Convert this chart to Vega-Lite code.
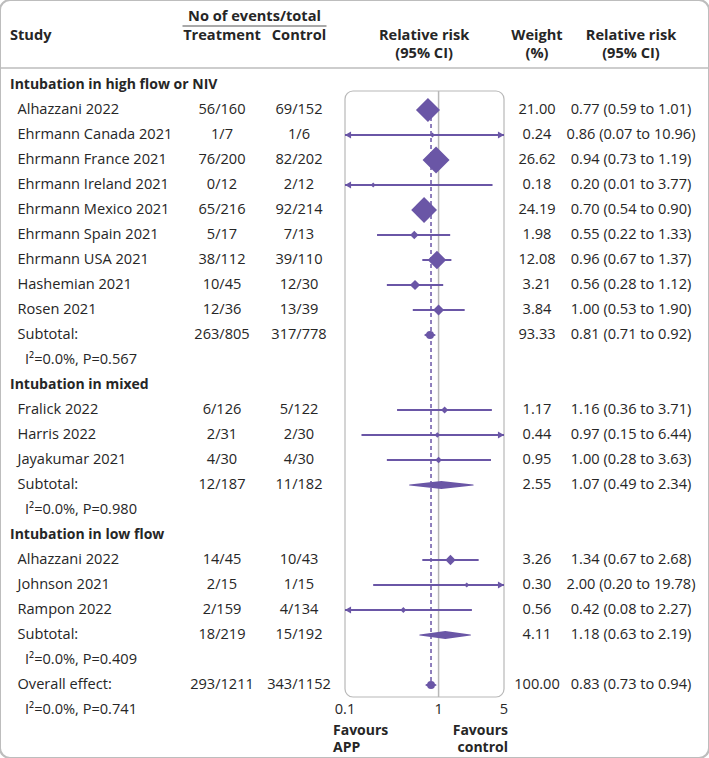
{
  "$schema": "https://vega.github.io/schema/vega-lite/v6.json",
  "width": 709,
  "height": 758,
  "autosize": {"type": "none"},
  "padding": 0,
  "background": "white",
  "config": {
    "view": {"stroke": "#bdbdbd", "strokeWidth": 2, "cornerRadius": 10},
    "axis": {"disable": true},
    "legend": {"disable": true},
    "font": "Open Sans",
    "text": {"font": "Open Sans", "fontSize": 14.6, "color": "#262626", "baseline": "middle"}
  },
  "datasets": {
    "rows": [
      {"row": 0, "group": "Intubation in high flow or NIV"},
      {"row": 1, "kind": "study", "label": "Alhazzani 2022", "treat": "56/160", "ctrl": "69/152", "w": 21.00, "rr": 0.77, "lo": 0.59, "hi": 1.01, "ci": "0.77 (0.59 to 1.01)"},
      {"row": 2, "kind": "study", "label": "Ehrmann Canada 2021", "treat": "1/7", "ctrl": "1/6", "w": 0.24, "rr": 0.86, "lo": 0.07, "hi": 10.96, "ci": "0.86 (0.07 to 10.96)"},
      {"row": 3, "kind": "study", "label": "Ehrmann France 2021", "treat": "76/200", "ctrl": "82/202", "w": 26.62, "rr": 0.94, "lo": 0.73, "hi": 1.19, "ci": "0.94 (0.73 to 1.19)"},
      {"row": 4, "kind": "study", "label": "Ehrmann Ireland 2021", "treat": "0/12", "ctrl": "2/12", "w": 0.18, "rr": 0.20, "lo": 0.01, "hi": 3.77, "ci": "0.20 (0.01 to 3.77)"},
      {"row": 5, "kind": "study", "label": "Ehrmann Mexico 2021", "treat": "65/216", "ctrl": "92/214", "w": 24.19, "rr": 0.70, "lo": 0.54, "hi": 0.90, "ci": "0.70 (0.54 to 0.90)"},
      {"row": 6, "kind": "study", "label": "Ehrmann Spain 2021", "treat": "5/17", "ctrl": "7/13", "w": 1.98, "rr": 0.55, "lo": 0.22, "hi": 1.33, "ci": "0.55 (0.22 to 1.33)"},
      {"row": 7, "kind": "study", "label": "Ehrmann USA 2021", "treat": "38/112", "ctrl": "39/110", "w": 12.08, "rr": 0.96, "lo": 0.67, "hi": 1.37, "ci": "0.96 (0.67 to 1.37)"},
      {"row": 8, "kind": "study", "label": "Hashemian 2021", "treat": "10/45", "ctrl": "12/30", "w": 3.21, "rr": 0.56, "lo": 0.28, "hi": 1.12, "ci": "0.56 (0.28 to 1.12)"},
      {"row": 9, "kind": "study", "label": "Rosen 2021", "treat": "12/36", "ctrl": "13/39", "w": 3.84, "rr": 1.00, "lo": 0.53, "hi": 1.90, "ci": "1.00 (0.53 to 1.90)"},
      {"row": 10, "kind": "subtotal", "label": "Subtotal:", "treat": "263/805", "ctrl": "317/778", "w": 93.33, "rr": 0.81, "lo": 0.71, "hi": 0.92, "ci": "0.81 (0.71 to 0.92)"},
      {"row": 11, "het": "I²=0.0%, P=0.567"},
      {"row": 12, "group": "Intubation in mixed"},
      {"row": 13, "kind": "study", "label": "Fralick 2022", "treat": "6/126", "ctrl": "5/122", "w": 1.17, "rr": 1.16, "lo": 0.36, "hi": 3.71, "ci": "1.16 (0.36 to 3.71)"},
      {"row": 14, "kind": "study", "label": "Harris 2022", "treat": "2/31", "ctrl": "2/30", "w": 0.44, "rr": 0.97, "lo": 0.15, "hi": 6.44, "ci": "0.97 (0.15 to 6.44)"},
      {"row": 15, "kind": "study", "label": "Jayakumar 2021", "treat": "4/30", "ctrl": "4/30", "w": 0.95, "rr": 1.00, "lo": 0.28, "hi": 3.63, "ci": "1.00 (0.28 to 3.63)"},
      {"row": 16, "kind": "subtotal", "label": "Subtotal:", "treat": "12/187", "ctrl": "11/182", "w": 2.55, "rr": 1.07, "lo": 0.49, "hi": 2.34, "ci": "1.07 (0.49 to 2.34)"},
      {"row": 17, "het": "I²=0.0%, P=0.980"},
      {"row": 18, "group": "Intubation in low flow"},
      {"row": 19, "kind": "study", "label": "Alhazzani 2022", "treat": "14/45", "ctrl": "10/43", "w": 3.26, "rr": 1.34, "lo": 0.67, "hi": 2.68, "ci": "1.34 (0.67 to 2.68)"},
      {"row": 20, "kind": "study", "label": "Johnson 2021", "treat": "2/15", "ctrl": "1/15", "w": 0.30, "rr": 2.00, "lo": 0.20, "hi": 19.78, "ci": "2.00 (0.20 to 19.78)"},
      {"row": 21, "kind": "study", "label": "Rampon 2022", "treat": "2/159", "ctrl": "4/134", "w": 0.56, "rr": 0.42, "lo": 0.08, "hi": 2.27, "ci": "0.42 (0.08 to 2.27)"},
      {"row": 22, "kind": "subtotal", "label": "Subtotal:", "treat": "18/219", "ctrl": "15/192", "w": 4.11, "rr": 1.18, "lo": 0.63, "hi": 2.19, "ci": "1.18 (0.63 to 2.19)"},
      {"row": 23, "het": "I²=0.0%, P=0.409"},
      {"row": 24, "kind": "overall", "label": "Overall effect:", "treat": "293/1211", "ctrl": "343/1152", "w": 100.00, "rr": 0.83, "lo": 0.73, "hi": 0.94, "ci": "0.83 (0.73 to 0.94)"},
      {"row": 25, "het": "I²=0.0%, P=0.741"}
    ],
    "ticks": [{"v": 0.1}, {"v": 1}, {"v": 5}]
  },
  "layer": [
    {
      "data": {"values": [{}]},
      "mark": {"type": "rect", "filled": false, "stroke": "#b8b8b8", "strokeWidth": 1.2, "cornerRadius": 8},
      "encoding": {
        "x": {"datum": 0.1, "type": "quantitative", "scale": {"type": "log", "domain": [0.1, 5], "range": [345, 504], "clamp": true, "nice": false}},
        "x2": {"datum": 5},
        "y": {"datum": 0.24, "type": "quantitative", "scale": {"domain": [0, 25], "range": [85, 710], "nice": false, "zero": false}},
        "y2": {"datum": 24.48}
      }
    },
    {
      "data": {"values": [{}]},
      "mark": {"type": "rule", "stroke": "#b8b8b8", "strokeWidth": 1.5},
      "encoding": {
        "x": {"datum": 1, "type": "quantitative", "scale": {"type": "log", "domain": [0.1, 5], "range": [345, 504], "clamp": true, "nice": false}},
        "y": {"datum": 0.24, "type": "quantitative", "scale": {"domain": [0, 25], "range": [85, 710], "nice": false, "zero": false}},
        "y2": {"datum": 24.48}
      }
    },
    {
      "data": {"name": "rows"},
      "transform": [{"filter": "datum.kind == 'overall'"}],
      "mark": {"type": "rule", "stroke": "#6a56a6", "strokeWidth": 1.5, "strokeDash": [4, 3]},
      "encoding": {
        "x": {"field": "rr", "type": "quantitative", "scale": {"type": "log", "domain": [0.1, 5], "range": [345, 504], "clamp": true, "nice": false}},
        "y": {"datum": 1, "type": "quantitative", "scale": {"domain": [0, 25], "range": [85, 710], "nice": false, "zero": false}},
        "y2": {"datum": 24}
      }
    },
    {
      "data": {"name": "rows"},
      "transform": [{"filter": "datum.kind == 'study'"}],
      "mark": {"type": "rule", "stroke": "#6a56a6", "strokeWidth": 2},
      "encoding": {
        "x": {"field": "lo", "type": "quantitative", "scale": {"type": "log", "domain": [0.1, 5], "range": [345, 504], "clamp": true, "nice": false}},
        "x2": {"field": "hi"},
        "y": {"field": "row", "type": "quantitative", "scale": {"domain": [0, 25], "range": [85, 710], "nice": false, "zero": false}}
      }
    },
    {
      "data": {"name": "rows"},
      "transform": [{"filter": "datum.kind == 'study' && datum.lo < 0.1"}],
      "mark": {"type": "point", "shape": "triangle-left", "filled": true, "color": "#6a56a6", "opacity": 1, "size": 50, "xOffset": 3},
      "encoding": {
        "x": {"field": "lo", "type": "quantitative", "scale": {"type": "log", "domain": [0.1, 5], "range": [345, 504], "clamp": true, "nice": false}},
        "y": {"field": "row", "type": "quantitative", "scale": {"domain": [0, 25], "range": [85, 710], "nice": false, "zero": false}}
      }
    },
    {
      "data": {"name": "rows"},
      "transform": [{"filter": "datum.kind == 'study' && datum.hi > 5"}],
      "mark": {"type": "point", "shape": "triangle-right", "filled": true, "color": "#6a56a6", "opacity": 1, "size": 50, "xOffset": -3},
      "encoding": {
        "x": {"field": "hi", "type": "quantitative", "scale": {"type": "log", "domain": [0.1, 5], "range": [345, 504], "clamp": true, "nice": false}},
        "y": {"field": "row", "type": "quantitative", "scale": {"domain": [0, 25], "range": [85, 710], "nice": false, "zero": false}}
      }
    },
    {
      "data": {"name": "rows"},
      "transform": [{"filter": "datum.kind == 'study'"}],
      "mark": {"type": "point", "shape": "diamond", "filled": true, "color": "#6a56a6", "opacity": 1, "strokeWidth": 0},
      "encoding": {
        "x": {"field": "rr", "type": "quantitative", "scale": {"type": "log", "domain": [0.1, 5], "range": [345, 504], "clamp": true, "nice": false}},
        "y": {"field": "row", "type": "quantitative", "scale": {"domain": [0, 25], "range": [85, 710], "nice": false, "zero": false}},
        "size": {"field": "w", "type": "quantitative", "scale": {"type": "linear", "domain": [0, 27], "range": [19, 740]}}
      }
    },
    {
      "data": {"name": "rows"},
      "transform": [
        {"filter": "datum.kind == 'subtotal' || datum.kind == 'overall'"},
        {"fold": ["lo", "rr", "hi"], "as": ["vertex", "xv"]}
      ],
      "mark": {"type": "trail", "color": "#6a56a6", "opacity": 1},
      "encoding": {
        "x": {"field": "xv", "type": "quantitative", "scale": {"type": "log", "domain": [0.1, 5], "range": [345, 504], "clamp": true, "nice": false}},
        "y": {"field": "row", "type": "quantitative", "scale": {"domain": [0, 25], "range": [85, 710], "nice": false, "zero": false}},
        "detail": {"field": "row", "type": "nominal"},
        "order": {"field": "xv", "type": "quantitative"},
        "size": {"field": "vertex", "type": "ordinal", "scale": {"type": "ordinal", "domain": ["lo", "rr", "hi"], "range": [0, 8, 0]}}
      }
    },
    {
      "data": {"name": "ticks"},
      "mark": {"type": "text", "align": "center"},
      "encoding": {
        "x": {"field": "v", "type": "quantitative", "scale": {"type": "log", "domain": [0.1, 5], "range": [345, 504], "clamp": true, "nice": false}},
        "y": {"datum": 25, "type": "quantitative", "scale": {"domain": [0, 25], "range": [85, 710], "nice": false, "zero": false}},
        "text": {"field": "v", "type": "quantitative", "format": "~g"}
      }
    },
    {
      "data": {"values": [{}]},
      "mark": {"type": "text", "align": "left", "fontWeight": "bold", "fontSize": 14, "dx": -12, "lineHeight": 17},
      "encoding": {
        "x": {"datum": 0.1, "type": "quantitative", "scale": {"type": "log", "domain": [0.1, 5], "range": [345, 504], "clamp": true, "nice": false}},
        "y": {"datum": 25.84, "type": "quantitative", "scale": {"domain": [0, 25], "range": [85, 710], "nice": false, "zero": false}},
        "text": {"value": ["Favours", "APP"]}
      }
    },
    {
      "data": {"values": [{}]},
      "mark": {"type": "text", "align": "right", "fontWeight": "bold", "fontSize": 14, "dx": 4, "lineHeight": 17},
      "encoding": {
        "x": {"datum": 5, "type": "quantitative", "scale": {"type": "log", "domain": [0.1, 5], "range": [345, 504], "clamp": true, "nice": false}},
        "y": {"datum": 25.84, "type": "quantitative", "scale": {"domain": [0, 25], "range": [85, 710], "nice": false, "zero": false}},
        "text": {"value": ["Favours", "control"]}
      }
    },
    {
      "data": {"values": [{"t": "Relative risk", "line": "l2"}, {"t": "(95% CI)", "line": "l3"}]},
      "mark": {"type": "text", "align": "center", "fontWeight": "bold"},
      "encoding": {
        "x": {"datum": 0.7, "type": "quantitative", "scale": {"type": "log", "domain": [0.1, 5], "range": [345, 504], "clamp": true, "nice": false}},
        "y": {"field": "line", "type": "nominal", "scale": {"type": "point", "domain": ["l1", "l2", "l3"], "range": [17, 54], "padding": 0}},
        "text": {"field": "t", "type": "nominal"}
      }
    },
    {
      "data": {"name": "rows"},
      "transform": [
        {"fold": ["group"], "as": ["col", "txt"]},
        {"filter": "isValid(datum.txt)"}
      ],
      "mark": {"type": "text", "align": "left", "fontWeight": "bold", "fontSize": 14},
      "encoding": {
        "x": {"field": "col", "type": "nominal", "scale": {"type": "point", "domain": ["group", "label", "het"], "range": [10, 25], "padding": 0}},
        "y": {"field": "row", "type": "quantitative", "scale": {"domain": [0, 25], "range": [85, 710], "nice": false, "zero": false}},
        "text": {"field": "txt", "type": "nominal"}
      }
    },
    {
      "data": {"name": "rows"},
      "transform": [
        {"fold": ["label", "het"], "as": ["col", "txt"]},
        {"filter": "isValid(datum.txt)"}
      ],
      "mark": {"type": "text", "align": "left"},
      "encoding": {
        "x": {"field": "col", "type": "nominal", "scale": {"type": "point", "domain": ["group", "label", "het"], "range": [10, 25], "padding": 0}},
        "y": {"field": "row", "type": "quantitative", "scale": {"domain": [0, 25], "range": [85, 710], "nice": false, "zero": false}},
        "text": {"field": "txt", "type": "nominal"}
      }
    },
    {
      "data": {"values": [{"t": "Study", "col": "group", "line": "l2"}]},
      "mark": {"type": "text", "align": "left", "fontWeight": "bold"},
      "encoding": {
        "x": {"field": "col", "type": "nominal", "scale": {"type": "point", "domain": ["group", "label", "het"], "range": [10, 25], "padding": 0}},
        "y": {"field": "line", "type": "nominal", "scale": {"type": "point", "domain": ["l1", "l2", "l3"], "range": [17, 54], "padding": 0}},
        "text": {"field": "t", "type": "nominal"}
      }
    },
    {
      "data": {"name": "rows"},
      "transform": [
        {"fold": ["treat", "ctrl"], "as": ["col", "val"]},
        {"filter": "isValid(datum.val)"}
      ],
      "mark": {"type": "text", "align": "center"},
      "encoding": {
        "x": {"field": "col", "type": "nominal", "scale": {"type": "point", "domain": ["treat", "events", "ctrl"], "range": [222, 299], "padding": 0}},
        "y": {"field": "row", "type": "quantitative", "scale": {"domain": [0, 25], "range": [85, 710], "nice": false, "zero": false}},
        "text": {"field": "val", "type": "nominal"}
      }
    },
    {
      "data": {"values": [{"t": "Treatment", "col": "treat", "line": "l2"}, {"t": "Control", "col": "ctrl", "line": "l2"}]},
      "mark": {"type": "text", "align": "center", "fontWeight": "bold"},
      "encoding": {
        "x": {"field": "col", "type": "nominal", "scale": {"type": "point", "domain": ["treat", "events", "ctrl"], "range": [222, 299], "padding": 0}},
        "y": {"field": "line", "type": "nominal", "scale": {"type": "point", "domain": ["l1", "l2", "l3"], "range": [17, 54], "padding": 0}},
        "text": {"field": "t", "type": "nominal"}
      }
    },
    {
      "data": {"values": [{"t": "No of events/total", "col": "events", "line": "l1"}]},
      "mark": {"type": "text", "align": "center", "fontWeight": "bold", "dx": -6},
      "encoding": {
        "x": {"field": "col", "type": "nominal", "scale": {"type": "point", "domain": ["treat", "events", "ctrl"], "range": [222, 299], "padding": 0}},
        "y": {"field": "line", "type": "nominal", "scale": {"type": "point", "domain": ["l1", "l2", "l3"], "range": [17, 54], "padding": 0}},
        "text": {"field": "t", "type": "nominal"}
      }
    },
    {
      "data": {"values": [{"col": "events", "line": "l1"}]},
      "mark": {"type": "tick", "orient": "horizontal", "color": "#555555", "opacity": 1, "size": 144, "thickness": 1.2, "xOffset": -6, "yOffset": 9},
      "encoding": {
        "x": {"field": "col", "type": "nominal", "scale": {"type": "point", "domain": ["treat", "events", "ctrl"], "range": [222, 299], "padding": 0}},
        "y": {"field": "line", "type": "nominal", "scale": {"type": "point", "domain": ["l1", "l2", "l3"], "range": [17, 54], "padding": 0}}
      }
    },
    {
      "data": {"name": "rows"},
      "transform": [
        {"fold": ["w"], "as": ["col", "val"]},
        {"filter": "isValid(datum.val)"}
      ],
      "mark": {"type": "text", "align": "center"},
      "encoding": {
        "x": {"field": "col", "type": "nominal", "scale": {"type": "point", "domain": ["w", "ci"], "range": [537, 631], "padding": 0}},
        "y": {"field": "row", "type": "quantitative", "scale": {"domain": [0, 25], "range": [85, 710], "nice": false, "zero": false}},
        "text": {"field": "val", "type": "quantitative", "format": ".2f"}
      }
    },
    {
      "data": {"name": "rows"},
      "transform": [
        {"fold": ["ci"], "as": ["col", "val"]},
        {"filter": "isValid(datum.val)"}
      ],
      "mark": {"type": "text", "align": "center"},
      "encoding": {
        "x": {"field": "col", "type": "nominal", "scale": {"type": "point", "domain": ["w", "ci"], "range": [537, 631], "padding": 0}},
        "y": {"field": "row", "type": "quantitative", "scale": {"domain": [0, 25], "range": [85, 710], "nice": false, "zero": false}},
        "text": {"field": "val", "type": "nominal"}
      }
    },
    {
      "data": {"values": [
        {"t": "Weight", "col": "w", "line": "l2"},
        {"t": "(%)", "col": "w", "line": "l3"},
        {"t": "Relative risk", "col": "ci", "line": "l2"},
        {"t": "(95% CI)", "col": "ci", "line": "l3"}
      ]},
      "mark": {"type": "text", "align": "center", "fontWeight": "bold"},
      "encoding": {
        "x": {"field": "col", "type": "nominal", "scale": {"type": "point", "domain": ["w", "ci"], "range": [537, 631], "padding": 0}},
        "y": {"field": "line", "type": "nominal", "scale": {"type": "point", "domain": ["l1", "l2", "l3"], "range": [17, 54], "padding": 0}},
        "text": {"field": "t", "type": "nominal"}
      }
    },
    {
      "data": {"values": [{"line": "l3"}]},
      "mark": {"type": "rule", "stroke": "#bdbdbd", "strokeWidth": 1.5, "yOffset": 14},
      "encoding": {
        "y": {"field": "line", "type": "nominal", "scale": {"type": "point", "domain": ["l1", "l2", "l3"], "range": [17, 54], "padding": 0}}
      }
    }
  ],
  "resolve": {"scale": {"x": "independent", "y": "independent", "size": "independent"}}
}
